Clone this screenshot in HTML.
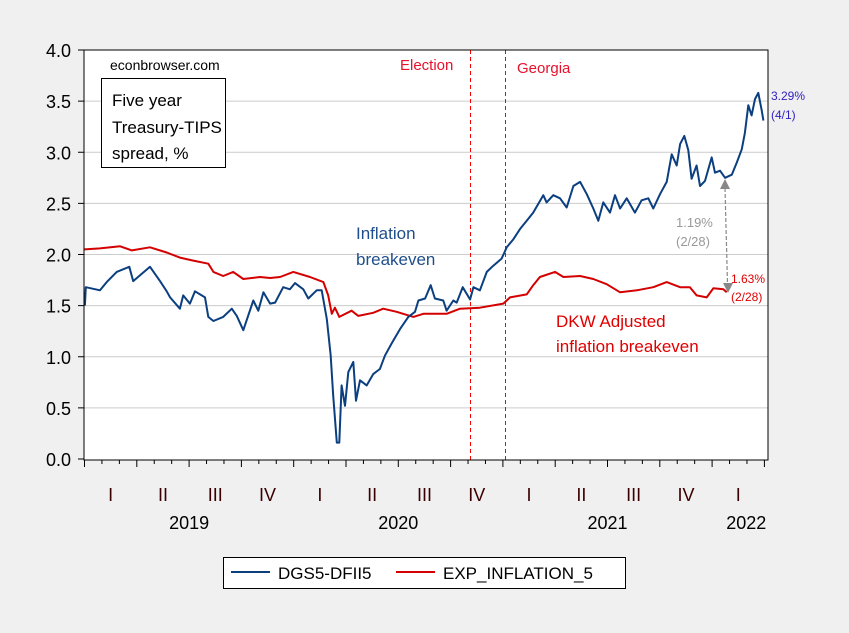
<!DOCTYPE html>
<html><head><meta charset="utf-8"><style>
html,body{margin:0;padding:0;background:#f0f0f0;}
svg{display:block;font-family:"Liberation Sans",Arial,sans-serif;}
</style></head><body>
<svg id="chart" width="849" height="633" viewBox="0 0 849 633" xmlns="http://www.w3.org/2000/svg">
<rect x="0" y="0" width="849" height="633" fill="#f0f0f0"/>
<rect x="84" y="50" width="684" height="410" fill="#ffffff"/>
<g id="grid"></g>
<g id="yaxis"></g>
<g id="xaxis"></g>
<g id="vlines"></g>
<g id="series"></g>
<rect x="84" y="50" width="684" height="410" fill="none" stroke="#000" stroke-width="1"/>
<text x="110" y="70" font-size="14" fill="#000">econbrowser.com</text>
<rect x="101.5" y="78.5" width="124" height="89" fill="#fff" stroke="#000"/>
<text font-size="17" fill="#000"><tspan x="112" y="106">Five year</tspan><tspan x="112" y="133">Treasury-TIPS</tspan><tspan x="112" y="159">spread, %</tspan></text>
<text x="400" y="70" font-size="15" fill="#e8102a">Election</text>
<text x="517" y="73" font-size="15" fill="#e8102a">Georgia</text>
<text font-size="17" fill="#1f4e8c"><tspan x="356" y="239">Inflation</tspan><tspan x="356" y="265">breakeven</tspan></text>
<text font-size="17" fill="#e00000"><tspan x="556" y="327">DKW Adjusted</tspan><tspan x="556" y="352">inflation breakeven</tspan></text>
<text font-size="13" fill="#999"><tspan x="676" y="227">1.19%</tspan><tspan x="676" y="246">(2/28)</tspan></text>
<text font-size="12" fill="#e00000"><tspan x="731" y="283">1.63%</tspan><tspan x="731" y="301">(2/28)</tspan></text>
<text font-size="12" fill="#2d1fc0"><tspan x="771" y="100">3.29%</tspan><tspan x="771" y="119">(4/1)</tspan></text>
<g>
<line x1="725" y1="188" x2="727.5" y2="284" stroke="#888" stroke-width="1.2" stroke-dasharray="4,2"/>
<polygon points="725,179 720,189 730,189" fill="#888"/>
<polygon points="728,293 723,283 733,283" fill="#888"/>
</g>
<g>
<rect x="223.5" y="557.5" width="402" height="31" fill="#fff" stroke="#000"/>
<line x1="231" y1="572" x2="270" y2="572" stroke="#0b3f80" stroke-width="2"/>
<text x="278" y="579" font-size="17" fill="#000">DGS5-DFII5</text>
<line x1="396" y1="572" x2="435" y2="572" stroke="#d40000" stroke-width="2"/>
<text x="443" y="579" font-size="17" fill="#000">EXP_INFLATION_5</text>
</g>
</svg>
<script>
const yTicks=[0,0.5,1,1.5,2,2.5,3,3.5,4];
const yTickLabels=["0.0","0.5","1.0","1.5","2.0","2.5","3.0","3.5","4.0"];
const quarterLabels=["I","II","III","IV","I","II","III","IV","I","II","III","IV","I"];
const yearLabels=["2019","2020","2021","2022"];
const eventDates=[2020.841,2021.011];
const blueT=[2019.002,2019.006,2019.074,2019.106,2019.154,2019.214,2019.233,2019.313,2019.361,2019.393,2019.409,2019.456,2019.472,2019.504,2019.528,2019.576,2019.592,2019.616,2019.663,2019.704,2019.728,2019.759,2019.807,2019.831,2019.855,2019.887,2019.911,2019.950,2019.982,2020.006,2020.046,2020.070,2020.110,2020.134,2020.158,2020.177,2020.189,2020.206,2020.218,2020.229,2020.245,2020.261,2020.285,2020.298,2020.317,2020.349,2020.380,2020.412,2020.436,2020.468,2020.508,2020.548,2020.580,2020.596,2020.628,2020.655,2020.675,2020.715,2020.731,2020.763,2020.779,2020.808,2020.843,2020.859,2020.890,2020.923,2020.954,2020.994,2021.007,2021.018,2021.050,2021.082,2021.114,2021.145,2021.193,2021.209,2021.241,2021.273,2021.305,2021.337,2021.369,2021.401,2021.432,2021.456,2021.480,2021.512,2021.536,2021.560,2021.592,2021.631,2021.663,2021.695,2021.719,2021.751,2021.783,2021.807,2021.831,2021.847,2021.867,2021.886,2021.902,2021.926,2021.942,2021.966,2021.998,2022.014,2022.038,2022.062,2022.094,2022.118,2022.142,2022.157,2022.173,2022.189,2022.205,2022.221,2022.237,2022.245];
const blueV=[1.50,1.68,1.65,1.73,1.83,1.88,1.74,1.88,1.74,1.64,1.58,1.47,1.60,1.52,1.64,1.58,1.39,1.35,1.39,1.47,1.40,1.26,1.55,1.45,1.63,1.52,1.53,1.68,1.66,1.72,1.66,1.57,1.65,1.65,1.37,1.01,0.62,0.16,0.16,0.72,0.52,0.85,0.95,0.57,0.77,0.72,0.83,0.88,1.01,1.13,1.27,1.39,1.44,1.55,1.57,1.70,1.57,1.55,1.45,1.55,1.53,1.68,1.56,1.68,1.65,1.83,1.89,1.96,2.02,2.07,2.15,2.25,2.33,2.41,2.58,2.51,2.58,2.55,2.46,2.67,2.71,2.59,2.45,2.33,2.51,2.41,2.58,2.45,2.55,2.41,2.53,2.55,2.45,2.59,2.71,2.98,2.87,3.08,3.16,3.02,2.74,2.87,2.67,2.72,2.95,2.80,2.82,2.75,2.78,2.90,3.03,3.19,3.46,3.36,3.52,3.58,3.41,3.31];
const redT=[2019.000,2019.074,2019.170,2019.226,2019.313,2019.393,2019.456,2019.520,2019.592,2019.616,2019.663,2019.711,2019.759,2019.839,2019.887,2019.935,2019.998,2020.078,2020.142,2020.165,2020.182,2020.197,2020.218,2020.277,2020.309,2020.380,2020.428,2020.492,2020.572,2020.620,2020.731,2020.795,2020.890,2021.002,2021.034,2021.114,2021.145,2021.177,2021.249,2021.289,2021.369,2021.432,2021.496,2021.560,2021.640,2021.719,2021.783,2021.847,2021.894,2021.926,2021.974,2022.006,2022.054,2022.070];
const redV=[2.05,2.06,2.08,2.04,2.07,2.02,1.97,1.94,1.91,1.83,1.79,1.83,1.76,1.78,1.77,1.78,1.83,1.78,1.73,1.60,1.42,1.48,1.39,1.45,1.40,1.43,1.47,1.44,1.39,1.42,1.42,1.47,1.48,1.52,1.58,1.61,1.70,1.78,1.83,1.78,1.79,1.76,1.71,1.63,1.65,1.68,1.73,1.68,1.68,1.60,1.58,1.67,1.66,1.63];
const NS='http://www.w3.org/2000/svg';
const X0=84.5,PXY=209.2;
function xS(t){return X0+(t-2019)*PXY;}
function yS(v){return 459-v*102.25;}
function mk(tag,attrs,parent){const e=document.createElementNS(NS,tag);for(const k in attrs)e.setAttribute(k,attrs[k]);parent.appendChild(e);return e;}
const grid=document.getElementById('grid'),ya=document.getElementById('yaxis'),xa=document.getElementById('xaxis'),vl=document.getElementById('vlines'),se=document.getElementById('series');
yTicks.forEach((v,i)=>{
  if(v>0&&v<4){const g=mk('line',{x1:84,x2:768,y1:yS(v),y2:yS(v),stroke:'#cccccc','stroke-width':1},grid);
  
  }
  const tk=mk('line',{x1:78,x2:84,y1:yS(v),y2:yS(v),stroke:'#000'},ya);
  
  
  const t=mk('text',{x:71,y:yS(v)+7,'text-anchor':'end','font-size':18,fill:'#000'},ya);
  t.textContent=yTickLabels[i];
  
  
});
for(let m=0;m<=39;m++){
  const t=2019+m/12;const x=xS(t);
  const major=m%3===0;
  const tk=mk('line',{x1:x,x2:x,y1:460,y2:major?467:464,stroke:'#000'},xa);
  
  
}
quarterLabels.forEach((q,i)=>{
  const t=mk('text',{x:xS(2019+i*0.25+0.125),y:501,'text-anchor':'middle','font-size':18,fill:'#3a0000'},xa);
  t.textContent=q;
  
  
});
yearLabels.forEach((y,i)=>{
  const cx=i<3?xS(2019+i+0.5):xS(2022.125)+8;
  const t=mk('text',{x:cx,y:529,'text-anchor':'middle','font-size':18,fill:'#000'},xa);
  t.textContent=y;
  
  
});
eventDates.forEach(d=>{
  const l=mk('line',{x1:Math.round(xS(d))+0.5,x2:Math.round(xS(d))+0.5,y1:50,y2:460,stroke:'#ff0000','stroke-width':1,'stroke-dasharray':'4,3'},vl);
  
  
});
function path(T,V){return T.map((t,i)=>(i?'L':'M')+xS(t).toFixed(1)+','+yS(V[i]).toFixed(1)).join(' ');}
const rp=mk('path',{d:path(redT,redV),fill:'none',stroke:'#d40000','stroke-width':2,'stroke-linejoin':'round'},se);


const bp=mk('path',{d:path(blueT,blueV),fill:'none',stroke:'#0b3f80','stroke-width':2,'stroke-linejoin':'round'},se);


</script>
</body></html>
